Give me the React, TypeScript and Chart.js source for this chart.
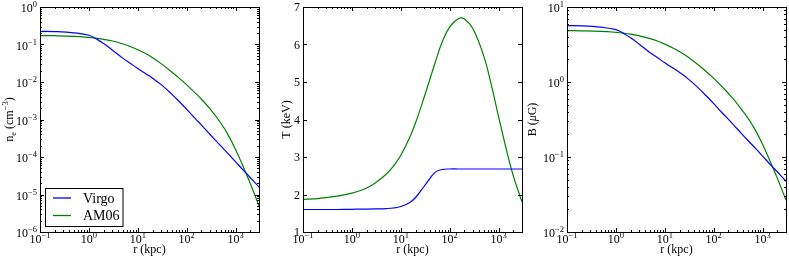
import React, { useEffect, useRef } from "react";
import { Chart, registerables } from "chart.js";

Chart.register(...registerables);

// ---- data ----
const radiusKpc = [0.1, 0.2, 0.5, 1, 1.5, 2, 3, 5, 7, 10, 15, 20, 30, 50, 70, 100, 150, 200, 300, 500, 700, 1000, 1500, 2000, 3000];

const neVirgo = [0.224, 0.221, 0.204, 0.176, 0.135, 0.106, 0.0716, 0.0427, 0.0316, 0.0229, 0.0162, 0.0126, 0.00851, 0.00468, 0.00302, 0.00186, 0.00105, 7.1e-4, 3.98e-4, 1.95e-4, 1.23e-4, 7.4e-5, 4.2e-5, 2.8e-5, 1.58e-5];
const neAM06 = [0.1726, 0.1714, 0.1652, 0.1542, 0.1452, 0.1374, 0.1242, 0.1033, 0.0885, 0.0728, 0.0557, 0.0446, 0.0309, 0.0183, 0.01268, 0.00836, 0.00506, 0.00347, 0.00192, 7.94e-4, 3.89e-4, 1.567e-4, 4.74e-5, 1.93e-5, 5.0e-6];

const tVirgo = [1.6, 1.6, 1.6, 1.605, 1.61, 1.61, 1.615, 1.625, 1.64, 1.68, 1.78, 1.92, 2.22, 2.59, 2.667, 2.68, 2.68, 2.68, 2.68, 2.68, 2.68, 2.68, 2.68, 2.68, 2.68];
const tAM06 = [1.87, 1.891, 1.955, 2.036, 2.106, 2.174, 2.307, 2.541, 2.751, 3.046, 3.504, 3.913, 4.594, 5.508, 6.066, 6.469, 6.689, 6.677, 6.411, 5.675, 4.95, 4.066, 3.098, 2.49, 1.8];

const bVirgo = [5.64, 5.61, 5.38, 4.995, 4.375, 3.877, 3.188, 2.46, 2.12, 1.8, 1.52, 1.34, 1.1, 0.815, 0.655, 0.514, 0.386, 0.317, 0.238, 0.166, 0.132, 0.1026, 0.0769, 0.0632, 0.0474];
const bAM06 = [4.831, 4.818, 4.739, 4.594, 4.466, 4.345, 4.13, 3.784, 3.517, 3.199, 2.817, 2.537, 2.138, 1.662, 1.383, 1.117, 0.858, 0.703, 0.516, 0.33, 0.232, 0.147, 0.0809, 0.0519, 0.0266];

const seriesLabels = ["Virgo", "AM06"];

const xTickValues = [0.1, 1, 10, 100, 1000];
const neTickValues = [1e-6, 1e-5, 1e-4, 1e-3, 1e-2, 1e-1, 1];
const tTickValues = [1, 2, 3, 4, 5, 6, 7];
const bTickValues = [0.01, 0.1, 1, 10];

// ---- styles ----
const COLORS = ["#0000ff", "#008000"];
const SERIF = '"Liberation Serif", "DejaVu Serif", serif';

type Piece = { t: string; size?: number; dy?: number; italic?: boolean };

function fontOf(p: Piece, base: number) {
  return `${p.italic ? "italic " : ""}${p.size ?? base}px ${SERIF}`;
}

function drawPieces(ctx: CanvasRenderingContext2D, pieces: Piece[], x: number, y: number, align: "left" | "center" | "right", base: number) {
  ctx.textAlign = "left";
  ctx.textBaseline = "alphabetic";
  const widths = pieces.map((p) => {
    ctx.font = fontOf(p, base);
    return ctx.measureText(p.t).width;
  });
  const total = widths.reduce((a, b) => a + b, 0);
  let cx = align === "center" ? x - total / 2 : align === "right" ? x - total : x;
  pieces.forEach((p, i) => {
    ctx.font = fontOf(p, base);
    ctx.fillText(p.t, cx, y + (p.dy ?? 0));
    cx += widths[i];
  });
}

function expLabel(v: number): Piece[] {
  const e = Math.round(Math.log10(v));
  const s = e < 0 ? "\u2212" + String(-e) : String(e);
  return [{ t: "10" }, { t: s, size: 8.5, dy: -5 }];
}

function minorLog(min: number, max: number) {
  const out: number[] = [];
  for (let k = Math.floor(Math.log10(min)); k <= Math.ceil(Math.log10(max)); k++) {
    for (let m = 2; m <= 9; m++) {
      const v = m * Math.pow(10, k);
      if (v > min && v < max) out.push(v);
    }
  }
  return out;
}

type PanelCfg = {
  left: number;
  width: number;
  axisW: number;
  padRight: number;
  yType: "logarithmic" | "linear";
  yMin: number;
  yMax: number;
  yTicks: number[];
  series: number[][];
  yTitle: Piece[];
  yTitleX: number;
  legend: boolean;
};

const X_MIN = 0.1;
const X_MAX = 3000;

const panels: PanelCfg[] = [
  {
    left: 0, width: 263, axisW: 40, padRight: 4, yType: "logarithmic", yMin: 1e-6, yMax: 1,
    yTicks: neTickValues, series: [neVirgo, neAM06],
    yTitle: [{ t: "n" }, { t: "e", size: 8.5, dy: 2.5 }, { t: " (cm" }, { t: "\u22123", size: 8.5, dy: -5 }, { t: ")" }],
    yTitleX: 13, legend: true,
  },
  {
    left: 263, width: 263, axisW: 40, padRight: 4, yType: "linear", yMin: 1, yMax: 7,
    yTicks: tTickValues, series: [tVirgo, tAM06],
    yTitle: [{ t: "T (keV)" }],
    yTitleX: 290 - 263, legend: false,
  },
  {
    left: 526, width: 263, axisW: 41, padRight: 3, yType: "logarithmic", yMin: 0.01, yMax: 10,
    yTicks: bTickValues, series: [bVirgo, bAM06],
    yTitle: [{ t: "B (" }, { t: "\u03bc", italic: true }, { t: "G)" }],
    yTitleX: 536 - 526, legend: false,
  },
];

function makeDecor(cfg: PanelCfg) {
  return {
    id: "decor",
    afterDraw(chart: any) {
      const ctx: CanvasRenderingContext2D = chart.ctx;
      const { left, right, top, bottom } = chart.chartArea;
      const xs = chart.scales.x;
      const ys = chart.scales.y;
      ctx.save();
      ctx.strokeStyle = "#000";
      ctx.fillStyle = "#000";
      ctx.lineWidth = 1;
      ctx.strokeRect(left + 0.5, top + 0.5, right - left, bottom - top);
      const tick = (x1: number, y1: number, x2: number, y2: number) => {
        ctx.beginPath();
        ctx.moveTo(x1, y1);
        ctx.lineTo(x2, y2);
        ctx.stroke();
      };
      const xMaj = xTickValues;
      const xMin = minorLog(X_MIN, X_MAX).filter((v) => !xMaj.includes(v));
      const xTick = (v: number, len: number) => {
        const px = Math.round(xs.getPixelForValue(v)) + 0.5;
        tick(px, bottom, px, bottom - len);
        tick(px, top, px, top + len);
      };
      xMaj.forEach((v) => xTick(v, 4));
      xMin.forEach((v) => xTick(v, 2));
      const yTick = (v: number, len: number) => {
        const py = Math.round(ys.getPixelForValue(v)) + 0.5;
        tick(left, py, left + len, py);
        tick(right, py, right - len, py);
      };
      cfg.yTicks.forEach((v) => yTick(v, 4));
      if (cfg.yType === "logarithmic") {
        minorLog(cfg.yMin, cfg.yMax).forEach((v) => yTick(v, 2));
      }
      xMaj.forEach((v) => {
        const px = xs.getPixelForValue(v);
        drawPieces(ctx, expLabel(v), px, bottom + 11, "center", 12);
      });
      cfg.yTicks.forEach((v) => {
        const py = ys.getPixelForValue(v);
        if (cfg.yType === "logarithmic") {
          drawPieces(ctx, expLabel(v), left - 3, py + 5, "right", 12);
        } else {
          drawPieces(ctx, [{ t: String(v) }], left - 3, py + 4, "right", 12);
        }
      });
      drawPieces(ctx, [{ t: "r (kpc)" }], (left + right) / 2, bottom + 21, "center", 12);
      ctx.save();
      ctx.translate(cfg.yTitleX, (top + bottom) / 2);
      ctx.rotate(-Math.PI / 2);
      drawPieces(ctx, cfg.yTitle, 0, 0, "center", 12);
      ctx.restore();
      if (cfg.legend) {
        const bx = left + 5.5;
        const by = bottom - 43.5;
        const bw = 77.5;
        const bh = 38;
        ctx.fillStyle = "#fff";
        ctx.fillRect(bx, by, bw, bh);
        ctx.strokeStyle = "#000";
        ctx.lineWidth = 1;
        ctx.strokeRect(bx, by, bw, bh);
        const rows = [by + 9.5, by + 27];
        chart.data.datasets.forEach((ds: any, i: number) => {
          ctx.strokeStyle = ds.borderColor;
          ctx.lineWidth = 1.3;
          ctx.beginPath();
          ctx.moveTo(bx + 7.5, rows[i]);
          ctx.lineTo(bx + 25.5, rows[i]);
          ctx.stroke();
          ctx.fillStyle = "#000";
          drawPieces(ctx, [{ t: ds.label }], bx + 37.5, rows[i] + 4.5, "left", 14);
        });
      }
      ctx.restore();
    },
  };
}

function Panel({ cfg }: { cfg: PanelCfg }) {
  const ref = useRef<HTMLCanvasElement | null>(null);
  useEffect(() => {
    if (!ref.current) return;
    const chart = new Chart(ref.current, {
      type: "line",
      data: {
        datasets: seriesLabels.map((label, i) => ({
          label,
          data: radiusKpc.map((r, j) => ({ x: r, y: cfg.series[i][j] })),
          borderColor: COLORS[i],
          backgroundColor: COLORS[i],
          borderWidth: 1.2,
          pointRadius: 0,
          fill: false,
          tension: 0.4,
        })),
      },
      options: {
        animation: false,
        responsive: false,
        devicePixelRatio: 1,
        layout: { padding: { top: 7, right: cfg.padRight, left: 0, bottom: 0 } },
        plugins: { legend: { display: false }, tooltip: { enabled: false } },
        scales: {
          x: {
            type: "logarithmic",
            min: X_MIN,
            max: X_MAX,
            grid: { display: false },
            border: { display: false },
            ticks: { display: false },
            afterFit: (s: any) => {
              s.height = 28;
            },
          },
          y: {
            type: cfg.yType,
            min: cfg.yMin,
            max: cfg.yMax,
            grid: { display: false },
            border: { display: false },
            ticks: { display: false },
            afterFit: (s: any) => {
              s.width = cfg.axisW;
            },
          },
        },
      } as any,
      plugins: [makeDecor(cfg)],
    });
    return () => chart.destroy();
  }, [cfg]);
  return (
    <canvas
      ref={ref}
      width={cfg.width}
      height={260}
      style={{ position: "absolute", left: cfg.left, top: 0, width: cfg.width, height: 260 }}
    />
  );
}

export default function App() {
  return (
    <div style={{ position: "fixed", left: 0, top: 0, width: 789, height: 260, background: "#fff" }}>
      {panels.map((p, i) => (
        <Panel key={i} cfg={p} />
      ))}
    </div>
  );
}
